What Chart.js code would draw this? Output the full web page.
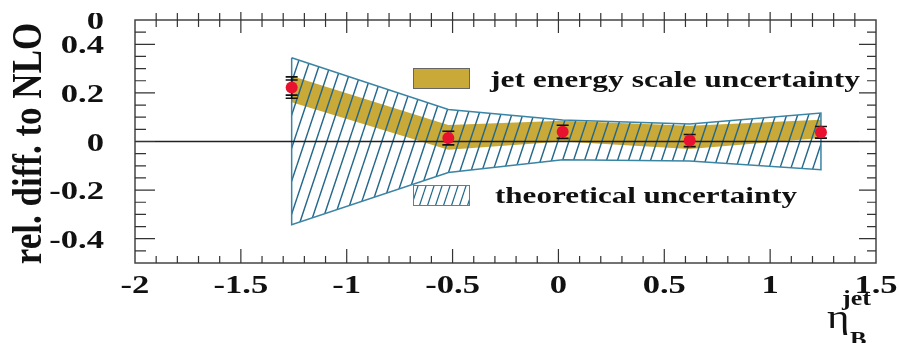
<!DOCTYPE html>
<html>
<head>
<meta charset="utf-8">
<script src="https://cdn.jsdelivr.net/npm/chart.js@4.4.1/dist/chart.umd.min.js"></script>
<style>
  html, body { margin: 0; padding: 0; background: #fff; }
  #wrap { width: 899px; height: 343px; }
</style>
</head>
<body>
<div id="wrap"><canvas id="c" width="899" height="343"></canvas></div>
<script>
// Bin centres in eta_B^jet and the measured relative difference to NLO
const etaBins   = [-1.26, -0.52, 0.02, 0.62, 1.24];
const relDiff   = [0.222, 0.014, 0.040, 0.004, 0.038];
const statErr   = [0.031, 0.028, 0.027, 0.025, 0.024];
const totalErr  = [0.044, 0.028, 0.027, 0.025, 0.024];

// Jet energy scale uncertainty band (upper / lower edge)
const jesUp     = [0.270, 0.068, 0.085, 0.065, 0.090];
const jesDown   = [0.162, -0.034, 0.000, -0.031, 0.014];

// Theoretical uncertainty band (upper / lower edge)
const theoUp    = [0.345, 0.132, 0.088, 0.072, 0.117];
const theoDown  = [-0.342, -0.128, -0.075, -0.080, -0.116];

// Axis ticks
const xRange      = [-2, 1.5];
const yRange      = [-0.5, 0.5];
const xTickValues = [-2, -1.5, -1, -0.5, 0, 0.5, 1, 1.5];
const xTickLabels = ['-2', '-1.5', '-1', '-0.5', '0', '0.5', '1', '1.5'];
const yTickValues = [-0.4, -0.2, 0, 0.2, 0.4, 0.5];
const yTickLabels = ['-0.4', '-0.2', '0', '0.2', '0.4', '0'];

const yTitle = 'rel. diff. to NLO';
const legendJes = 'jet energy scale uncertainty';
const legendTheo = 'theoretical uncertainty';

const GOLD = 'rgb(201,169,55)';
const TEAL = 'rgb(58,132,164)';
const HATCH = 'rgb(36,104,138)';
const RED = 'rgb(232,18,48)';
const SERIF = '"Liberation Serif", "Times New Roman", serif';

const canvas = document.getElementById('c');
const mainCtx = canvas.getContext('2d');

function makeHatch(spacing, color, lw) {
  const tile = document.createElement('canvas');
  const w = spacing, h = spacing * 3;
  tile.width = w; tile.height = h;
  const g = tile.getContext('2d');
  g.strokeStyle = color; g.lineWidth = lw;
  g.beginPath();
  for (let k = -1; k <= 1; k++) { g.moveTo(k * w, h); g.lineTo(k * w + w, 0); }
  g.stroke();
  return mainCtx.createPattern(tile, 'repeat');
}
const hatchMain = makeHatch(11, HATCH, 1.45);
const hatchKey = makeHatch(8, HATCH, 1.2);

const pts = (ys) => etaBins.map((x, i) => ({ x, y: ys[i] }));
const outline = pts(theoUp).concat(pts(theoDown).reverse(), [{ x: etaBins[0], y: theoUp[0] }]);

function stretchedText(ctx, txt, x, y, font, sx, align) {
  ctx.save();
  ctx.font = font;
  ctx.translate(x, y);
  ctx.scale(sx, 1);
  ctx.textAlign = align || 'left';
  ctx.textBaseline = 'alphabetic';
  ctx.fillStyle = '#111';
  ctx.fillText(txt, 0, 0);
  ctx.restore();
}

// Closed band path between an upper and a lower edge, through the chart scales
function bandPath(ctx, x, y, up, down) {
  ctx.beginPath();
  etaBins.forEach((e, i) => {
    const px = x.getPixelForValue(e), py = y.getPixelForValue(up[i]);
    if (i === 0) ctx.moveTo(px, py); else ctx.lineTo(px, py);
  });
  for (let i = etaBins.length - 1; i >= 0; i--) {
    ctx.lineTo(x.getPixelForValue(etaBins[i]), y.getPixelForValue(down[i]));
  }
  ctx.closePath();
}

// Gold JES band, hatched theory band on top of it, then error bars under the markers
const bandAndErrors = {
  id: 'bandAndErrors',
  beforeDatasetDraw(chart, args) {
    const { ctx, chartArea: a, scales: { x, y } } = chart;
    const role = chart.data.datasets[args.index].label;
    if (role === 'theoretical uncertainty') {
      ctx.save();
      ctx.beginPath();
      ctx.rect(a.left, a.top, a.right - a.left, a.bottom - a.top);
      ctx.clip();
      bandPath(ctx, x, y, jesUp, jesDown);
      ctx.fillStyle = GOLD;
      ctx.fill();
      bandPath(ctx, x, y, theoUp, theoDown);
      ctx.fillStyle = hatchMain;
      ctx.fill();
      ctx.restore();
    }
    if (role === 'data') {
      ctx.save();
      ctx.strokeStyle = '#111';
      ctx.lineWidth = 1.6;
      etaBins.forEach((e, i) => {
        const px = x.getPixelForValue(e);
        const top = y.getPixelForValue(relDiff[i] + totalErr[i]);
        const bot = y.getPixelForValue(relDiff[i] - totalErr[i]);
        ctx.beginPath();
        ctx.moveTo(px, top); ctx.lineTo(px, bot);
        const caps = [totalErr[i]];
        if (statErr[i] !== totalErr[i]) caps.push(statErr[i]);
        caps.forEach(err => {
          [relDiff[i] + err, relDiff[i] - err].forEach(v => {
            const py = y.getPixelForValue(v);
            ctx.moveTo(px - 6, py); ctx.lineTo(px + 6, py);
          });
        });
        ctx.stroke();
      });
      ctx.restore();
    }
  }
};

// Frame, inward ticks, labels, legend and axis titles
const decorations = {
  id: 'decorations',
  afterDatasetsDraw(chart) {
    const { ctx, chartArea: a, scales: { x, y } } = chart;
    ctx.save();
    ctx.strokeStyle = '#444';
    ctx.lineWidth = 1.5;
    ctx.strokeRect(a.left, a.top, a.right - a.left, a.bottom - a.top);

    ctx.lineWidth = 1.2;
    ctx.strokeStyle = '#333';
    ctx.beginPath();
    // x ticks every 0.1, major every 0.5
    for (let k = 1; k < 35; k++) {
      const px = x.getPixelForValue(xRange[0] + k * 0.1);
      const major = k % 5 === 0;
      ctx.moveTo(px, a.bottom); ctx.lineTo(px, a.bottom - (major ? 14 : 7));
      ctx.moveTo(px, a.top - (major ? 8 : 7)); ctx.lineTo(px, a.top + (major ? 13 : 7));
    }
    // y ticks every 0.05, major every 0.2
    for (let k = 1; k < 20; k++) {
      const v = yRange[0] + k * 0.05;
      const py = y.getPixelForValue(v);
      const major = Math.abs(Math.round(v * 100) % 20) === 0;
      ctx.moveTo(a.left, py); ctx.lineTo(a.left + (major ? 20 : 11), py);
      ctx.moveTo(a.right, py); ctx.lineTo(a.right - (major ? 17 : 9), py);
    }
    ctx.stroke();

    const tickFont = 'bold 26px ' + SERIF;
    xTickValues.forEach((v, i) => {
      stretchedText(ctx, xTickLabels[i], x.getPixelForValue(v), a.bottom + 30, tickFont, 1.33, 'center');
    });
    yTickValues.forEach((v, i) => {
      const py = y.getPixelForValue(v);
      ctx.save();
      if (v === yRange[1]) { ctx.beginPath(); ctx.rect(0, a.top - 7, a.left, 60); ctx.clip(); }
      stretchedText(ctx, yTickLabels[i], a.left - 31, py + 9, tickFont, 1.33, 'right');
      ctx.restore();
    });

    // y-axis title
    ctx.save();
    ctx.translate(41, (a.top + a.bottom) / 2 + 2);
    ctx.rotate(-Math.PI / 2);
    ctx.scale(1, 1.2);
    ctx.font = 'bold 35px ' + SERIF;
    ctx.textAlign = 'center';
    ctx.textBaseline = 'alphabetic';
    ctx.fillStyle = '#111';
    ctx.fillText(yTitle, 0, 0);
    ctx.restore();

    // x-axis title eta_B^jet
    stretchedText(ctx, 'η', 827, 328, '33px ' + SERIF, 1.3, 'left');
    stretchedText(ctx, 'jet', 842, 305, 'bold 20px ' + SERIF, 1.3, 'left');
    stretchedText(ctx, 'B', 850, 345, 'bold 19px ' + SERIF, 1.3, 'left');

    // legend
    ctx.fillStyle = GOLD;
    ctx.fillRect(413, 68, 56, 20);
    ctx.lineWidth = 1;
    ctx.strokeStyle = '#666';
    ctx.strokeRect(413.5, 68.5, 56, 20);
    stretchedText(ctx, legendJes, 490, 87, 'bold 23px ' + SERIF, 1.37, 'left');

    ctx.fillStyle = hatchKey;
    ctx.fillRect(413, 185, 56, 20);
    ctx.strokeStyle = '#777';
    ctx.strokeRect(413.5, 185.5, 56, 20);
    stretchedText(ctx, legendTheo, 495, 203, 'bold 23px ' + SERIF, 1.35, 'left');
    ctx.restore();
  }
};

const clear = 'rgba(0,0,0,0)';
new Chart(canvas, {
  type: 'line',
  data: {
    datasets: [
      { label: 'jes upper', data: pts(jesUp), fill: false, borderColor: clear, borderWidth: 0, pointRadius: 0, order: 6 },
      { label: 'jes lower', data: pts(jesDown), fill: false, borderColor: clear, borderWidth: 0, pointRadius: 0, order: 5 },
      { label: 'theoretical uncertainty', data: outline, fill: false, borderColor: TEAL, borderWidth: 1.5, pointRadius: 0, order: 2 },
      { label: 'zero', data: xRange.map(v => ({ x: v, y: 0 })), fill: false, borderColor: '#222', borderWidth: 1.5, pointRadius: 0, order: 1 },
      { label: 'data', data: pts(relDiff), showLine: false, pointRadius: 6, pointBackgroundColor: RED, pointBorderWidth: 0, borderColor: RED, order: 0 }
    ]
  },
  options: {
    responsive: false,
    animation: false,
    devicePixelRatio: 1,
    layout: { padding: { left: 135, top: 20, right: 23, bottom: 80 } },
    elements: { line: { tension: 0 } },
    scales: {
      x: { type: 'linear', min: xRange[0], max: xRange[1], display: false },
      y: { type: 'linear', min: yRange[0], max: yRange[1], display: false }
    },
    plugins: { legend: { display: false }, tooltip: { enabled: false } }
  },
  plugins: [bandAndErrors, decorations]
});
</script>
</body>
</html>
